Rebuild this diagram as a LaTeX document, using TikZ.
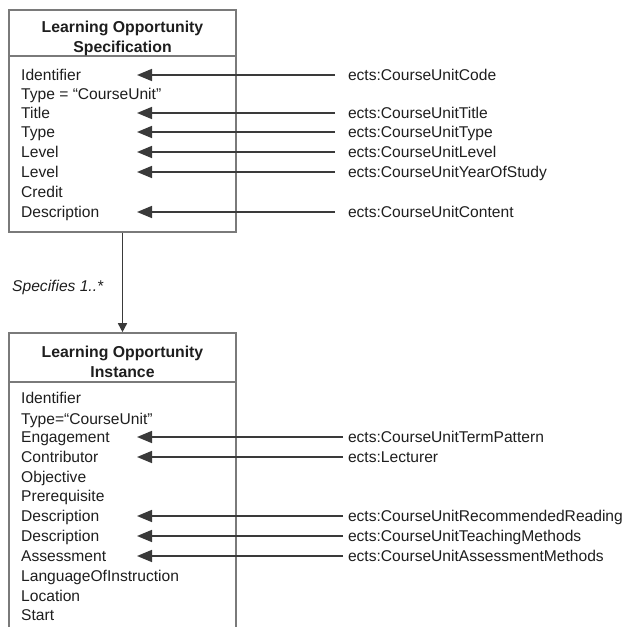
\documentclass[tikz,border=0pt]{standalone}
\usepackage{fontspec}
\setmainfont{Liberation Sans}
\usetikzlibrary{arrows.meta}
\definecolor{boxgray}{HTML}{7A7A7A}
\definecolor{ink}{HTML}{1E1E1E}
\definecolor{wire}{HTML}{3A3A3A}
\begin{document}
\begin{tikzpicture}[x=1bp,y=-1bp,
  classbox/.style={draw=boxgray,line width=1.6bp,minimum width=227bp,inner sep=0pt},
  divider/.style={draw=boxgray,line width=1.6bp},
  head/.style={align=center,inner sep=0pt,text=ink,font=\bfseries\fontsize{15.8bp}{20bp}\selectfont},
  item/.style={anchor=base west,inner sep=0pt,text=ink,font=\fontsize{15.6bp}{18bp}\selectfont},
  ects/.style={item,outer xsep=13bp},
  ectsnear/.style={item,outer xsep=5bp},
  feed/.style={draw=wire,line width=1.6bp,-{Triangle[length=15bp,width=12bp]}},
  assoc/.style={draw=wire,line width=1.6bp,-{Triangle[length=9bp,width=9bp]}}
]
\clip (0,0) rectangle (636,627);

% Class boxes
\node[classbox,minimum height=222bp] (spec) at (122.5,121) {};
\node[classbox,minimum height=317bp] (inst) at (122.5,491.5) {};
\draw[divider] (spec.west |- 0,56) -- (spec.east |- 0,56);
\draw[divider] (inst.west |- 0,382) -- (inst.east |- 0,382);

\node[head] (spechead) at (122.5,38) {Learning Opportunity\\Specification};
\node[head] (insthead) at (122.5,361.5) {Learning Opportunity\\Instance};

% Attributes of the specification
\node[item] (s1) at (21,80.5) {Identifier};
\node[item] (s2) at (21,99.5) {Type = “CourseUnit”};
\node[item] (s3) at (21,118.5) {Title};
\node[item] (s4) at (21,137.5) {Type};
\node[item] (s5) at (21,157.5) {Level};
\node[item] (s6) at (21,177.5) {Level};
\node[item] (s7) at (21,197.5) {Credit};
\node[item] (s8) at (21,217.5) {Description};

% Attributes of the instance
\node[item] (i1) at (21,403.5) {Identifier};
\node[item] (i2) at (21,424.5) {Type=“CourseUnit”};
\node[item] (i3) at (21,442.5) {Engagement};
\node[item] (i4) at (21,462.5) {Contributor};
\node[item] (i5) at (21,482.5) {Objective};
\node[item] (i6) at (21,501.5) {Prerequisite};
\node[item] (i7) at (21,521.5) {Description};
\node[item] (i8) at (21,541.5) {Description};
\node[item] (i9) at (21,561.5) {Assessment};
\node[item] (i10) at (21,581.5) {LanguageOfInstruction};
\node[item] (i11) at (21,601.5) {Location};
\node[item] (i12) at (21,620.5) {Start};

% ECTS elements feeding the specification (text starts at x=348)
\node[ects] (e1) at (335,80.5) {ects:CourseUnitCode};
\node[ects] (e2) at (335,118.5) {ects:CourseUnitTitle};
\node[ects] (e3) at (335,137.5) {ects:CourseUnitType};
\node[ects] (e4) at (335,157.5) {ects:CourseUnitLevel};
\node[ects] (e5) at (335,177.5) {ects:CourseUnitYearOfStudy};
\node[ects] (e6) at (335,217.5) {ects:CourseUnitContent};

% ECTS elements feeding the instance
\node[ectsnear] (f1) at (343,442.5) {ects:CourseUnitTermPattern};
\node[ectsnear] (f2) at (343,462.5) {ects:Lecturer};
\node[ectsnear] (f3) at (343,521.5) {ects:CourseUnitRecommendedReading};
\node[ectsnear] (f4) at (343,541.5) {ects:CourseUnitTeachingMethods};
\node[ectsnear] (f5) at (343,561.5) {ects:CourseUnitAssessmentMethods};

% Arrow tips inside the boxes
\foreach \n/\y in {1/75,2/113,3/132,4/152,5/172,6/212}
  \coordinate (ts\n) at (137,\y);
\foreach \n/\y in {1/437,2/457,3/516,4/536,5/556}
  \coordinate (ti\n) at (137,\y);

\foreach \n/\y in {1/75,2/113,3/132,4/152,5/172,6/212}
  \draw[feed] (e\n.west |- 0,\y) -- (ts\n);
\foreach \n/\y in {1/437,2/457,3/516,4/536,5/556}
  \draw[feed] (f\n.west |- 0,\y) -- (ti\n);

% Association between the two classes
\draw[assoc] (spec.south) -- (inst.north);
\node[anchor=west,inner sep=0pt,text=ink,font=\itshape\fontsize{15.6bp}{18bp}\selectfont]
  (specifies) at (12,287) {Specifies 1..*};
\end{tikzpicture}
\end{document}
